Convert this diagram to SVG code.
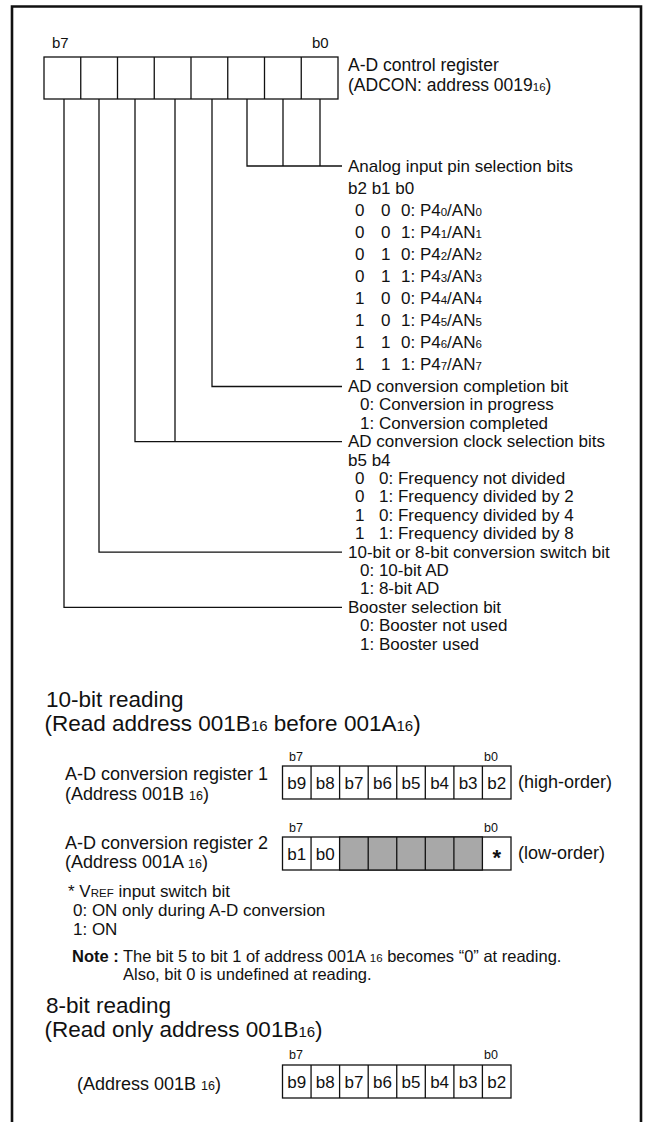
<svg xmlns="http://www.w3.org/2000/svg" width="645" height="1122" viewBox="0 0 645 1122">
<style>
text{font-family:"Liberation Sans",Arial,sans-serif;fill:#111}
.b{font-size:17px}
.t{font-size:17.5px}
.bl{font-size:15px}
.rl{font-size:12.5px}
.lab{font-size:18px}
.h{font-size:22.5px}
.n{font-size:16.5px}
.cell{font-size:17px;text-anchor:middle}
.s{font-size:11.5px}
.box{fill:#fff;stroke:#111;stroke-width:1.3}
.gray{fill:#a8a8a8;stroke:#111;stroke-width:1.3}
.ln{fill:none;stroke:#111;stroke-width:1.3}
</style>
<rect width="645" height="1122" fill="#fff"/>
<path d="M12 1130 V6.5 H641 V1130" fill="none" stroke="#111" stroke-width="2.6"/>

<g id="adcon-register">
<text class="bl" x="52" y="48">b7</text>
<text class="bl" x="312" y="48">b0</text>
<rect class="box" x="44" y="57" width="294" height="42"/>
<path class="ln" d="M80.75 57V99M117.5 57V99M154.25 57V99M191 57V99M227.75 57V99M264.5 57V99M301.25 57V99"/>
<text class="t" x="348" y="71">A-D control register</text>
<text class="t" x="348" y="91">(ADCON: address 0019<tspan class="s">16</tspan>)</text>
</g>

<g id="connectors">
<path class="ln" d="M320 99V166M283 99V166M247 99V166H342"/>
<path class="ln" d="M212 99V386.5H342"/>
<path class="ln" d="M175 99V441.7M135 99V441.7H342"/>
<path class="ln" d="M99 99V552.1H342"/>
<path class="ln" d="M64 99V607.3H342"/>
</g>

<g id="pin-selection">
<text class="b" x="348" y="172">Analog input pin selection bits</text>
<text class="b" x="348" y="194">b2 b1 b0</text>
<text class="b" y="216"><tspan x="355">0</tspan><tspan x="381">0</tspan><tspan x="401">0: P4<tspan class="s">0</tspan>/AN<tspan class="s">0</tspan></tspan></text>
<text class="b" y="238"><tspan x="355">0</tspan><tspan x="381">0</tspan><tspan x="401">1: P4<tspan class="s">1</tspan>/AN<tspan class="s">1</tspan></tspan></text>
<text class="b" y="260"><tspan x="355">0</tspan><tspan x="381">1</tspan><tspan x="401">0: P4<tspan class="s">2</tspan>/AN<tspan class="s">2</tspan></tspan></text>
<text class="b" y="282"><tspan x="355">0</tspan><tspan x="381">1</tspan><tspan x="401">1: P4<tspan class="s">3</tspan>/AN<tspan class="s">3</tspan></tspan></text>
<text class="b" y="304"><tspan x="355">1</tspan><tspan x="381">0</tspan><tspan x="401">0: P4<tspan class="s">4</tspan>/AN<tspan class="s">4</tspan></tspan></text>
<text class="b" y="326"><tspan x="355">1</tspan><tspan x="381">0</tspan><tspan x="401">1: P4<tspan class="s">5</tspan>/AN<tspan class="s">5</tspan></tspan></text>
<text class="b" y="348"><tspan x="355">1</tspan><tspan x="381">1</tspan><tspan x="401">0: P4<tspan class="s">6</tspan>/AN<tspan class="s">6</tspan></tspan></text>
<text class="b" y="370"><tspan x="355">1</tspan><tspan x="381">1</tspan><tspan x="401">1: P4<tspan class="s">7</tspan>/AN<tspan class="s">7</tspan></tspan></text>
</g>

<g id="completion-bit">
<text class="b" x="348" y="392">AD conversion completion bit</text>
<text class="b" x="360" y="410.4">0: Conversion in progress</text>
<text class="b" x="360" y="428.8">1: Conversion completed</text>
</g>

<g id="clock-selection">
<text class="b" x="348" y="447.2">AD conversion clock selection bits</text>
<text class="b" x="348" y="465.6">b5 b4</text>
<text class="b" y="484"><tspan x="355">0</tspan><tspan x="379">0: Frequency not divided</tspan></text>
<text class="b" y="502.4"><tspan x="355">0</tspan><tspan x="379">1: Frequency divided by 2</tspan></text>
<text class="b" y="520.8"><tspan x="355">1</tspan><tspan x="379">0: Frequency divided by 4</tspan></text>
<text class="b" y="539.2"><tspan x="355">1</tspan><tspan x="379">1: Frequency divided by 8</tspan></text>
</g>

<g id="switch-bit">
<text class="b" x="348" y="557.6">10-bit or 8-bit conversion switch bit</text>
<text class="b" x="360" y="576">0: 10-bit AD</text>
<text class="b" x="360" y="594.4">1: 8-bit AD</text>
</g>

<g id="booster-bit">
<text class="b" x="348" y="612.8">Booster selection bit</text>
<text class="b" x="360" y="631.2">0: Booster not used</text>
<text class="b" x="360" y="649.6">1: Booster used</text>
</g>

<g id="ten-bit-heading">
<text class="h" x="46" y="707">10-bit reading</text>
<text class="h" x="44.5" y="731">(Read address 001B<tspan font-size="15">16</tspan> before 001A<tspan font-size="15">16</tspan>)</text>
</g>

<g id="conversion-register-1">
<text class="lab" x="65" y="780">A-D conversion register 1</text>
<text class="lab" x="65" y="800">(Address 001B <tspan font-size="12.5">16</tspan>)</text>
<text class="rl" x="289" y="761">b7</text>
<text class="rl" x="484" y="761">b0</text>
<rect class="box" x="282.5" y="766" width="228.5" height="33"/>
<path class="ln" d="M311.06 766V799M339.6 766V799M368.2 766V799M396.75 766V799M425.3 766V799M453.9 766V799M482.4 766V799"/>
<text class="cell" x="296.8" y="788.5">b9</text><text class="cell" x="325.3" y="788.5">b8</text><text class="cell" x="353.9" y="788.5">b7</text><text class="cell" x="382.5" y="788.5">b6</text><text class="cell" x="411" y="788.5">b5</text><text class="cell" x="439.6" y="788.5">b4</text><text class="cell" x="468.1" y="788.5">b3</text><text class="cell" x="496.7" y="788.5">b2</text>
<text class="lab" x="518" y="788">(high-order)</text>
</g>

<g id="conversion-register-2">
<text class="lab" x="65" y="849">A-D conversion register 2</text>
<text class="lab" x="65" y="868">(Address 001A <tspan font-size="12.5">16</tspan>)</text>
<text class="rl" x="289" y="832">b7</text>
<text class="rl" x="484" y="832">b0</text>
<rect class="box" x="282.5" y="837" width="228.5" height="33"/>
<rect class="gray" x="339.6" y="837" width="142.8" height="33"/>
<path class="ln" d="M311.06 837V870M368.2 837V870M396.75 837V870M425.3 837V870M453.9 837V870"/>
<text class="cell" x="296.8" y="859.5">b1</text><text class="cell" x="325.3" y="859.5">b0</text>
<text x="496.7" y="865" style="font-size:22px;text-anchor:middle;font-weight:bold">*</text>
<text class="lab" x="518" y="859">(low-order)</text>
</g>

<g id="footnote">
<text class="b" x="68" y="897">* V<tspan class="s">REF</tspan> input switch bit</text>
<text class="b" x="73" y="916">0: ON only during A-D conversion</text>
<text class="b" x="73" y="935">1: ON</text>
<text class="n" x="72" y="962" font-weight="bold">Note :</text>
<text class="n" x="123" y="962">The bit 5 to bit 1 of address 001A <tspan class="s">16</tspan> becomes “0” at reading.</text>
<text class="n" x="123" y="980">Also, bit 0 is undefined at reading.</text>
</g>

<g id="eight-bit-heading">
<text class="h" x="46" y="1013">8-bit reading</text>
<text class="h" x="44.5" y="1037">(Read only address 001B<tspan font-size="15">16</tspan>)</text>
</g>

<g id="conversion-register-8bit">
<text class="lab" x="77" y="1090">(Address 001B <tspan font-size="12.5">16</tspan>)</text>
<text class="rl" x="289" y="1059">b7</text>
<text class="rl" x="484" y="1059">b0</text>
<rect class="box" x="282.5" y="1065" width="228.5" height="33"/>
<path class="ln" d="M311.06 1065V1098M339.6 1065V1098M368.2 1065V1098M396.75 1065V1098M425.3 1065V1098M453.9 1065V1098M482.4 1065V1098"/>
<text class="cell" x="296.8" y="1087.5">b9</text><text class="cell" x="325.3" y="1087.5">b8</text><text class="cell" x="353.9" y="1087.5">b7</text><text class="cell" x="382.5" y="1087.5">b6</text><text class="cell" x="411" y="1087.5">b5</text><text class="cell" x="439.6" y="1087.5">b4</text><text class="cell" x="468.1" y="1087.5">b3</text><text class="cell" x="496.7" y="1087.5">b2</text>
</g>
</svg>
